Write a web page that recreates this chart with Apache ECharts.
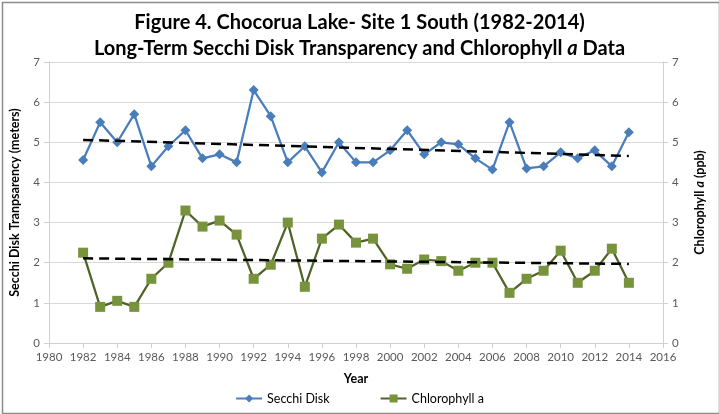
<!DOCTYPE html>
<html><head><meta charset="utf-8">
<script src="https://cdn.jsdelivr.net/npm/echarts@6/dist/echarts.min.js"></script>
<style>html,body{margin:0;padding:0;background:#fff}#c{width:719px;height:414px}</style>
</head><body><div id="c"></div>
<script>
var years = [1982,1983,1984,1985,1986,1987,1988,1989,1990,1991,1992,1993,1994,1995,1996,1997,1998,1999,2000,2001,2002,2003,2004,2005,2006,2007,2008,2009,2010,2011,2012,2013,2014];
var secchi = [4.56,5.5,5.0,5.7,4.4,4.9,5.3,4.6,4.7,4.5,6.3,5.65,4.5,4.9,4.25,5.0,4.5,4.5,4.8,5.3,4.7,5.0,4.95,4.6,4.32,5.5,4.35,4.4,4.75,4.6,4.8,4.4,5.25];
var chlorophyll = [2.25,0.9,1.05,0.9,1.6,2.0,3.3,2.9,3.05,2.7,1.6,1.95,3.0,1.4,2.6,2.95,2.5,2.6,1.96,1.85,2.08,2.04,1.8,2.0,2.0,1.25,1.6,1.8,2.3,1.5,1.8,2.35,1.5];
var trendYears = [1982, 2014];
var secchiTrend = [5.06, 4.66];
var chlTrend = [2.11, 1.97];
var yTicks = [0,1,2,3,4,5,6,7];

function pairs(xs, ys){ return xs.map(function(x,i){ return [x, ys[i]]; }); }

var chart = echarts.init(document.getElementById('c'), null, {renderer:'canvas'});
var FONT = 'Lato, "Open Sans", sans-serif';
var tickLabel = {color:'#595959', fontSize:11.5, fontFamily:FONT};
chart.setOption({
  animation:false,
  textStyle:{fontFamily:FONT},
  title:{
    text:'Figure 4. Chocorua Lake- Site 1 South (1982-2014)\n{b|Long-Term Secchi Disk Transparency and Chlorophyll }{i|a}{b| Data}',
    left:'center', top:5,
    textStyle:{fontSize:20, fontWeight:'bold', color:'#000', fontFamily:FONT, lineHeight:26,
      rich:{b:{fontSize:20,fontWeight:'bold',color:'#000',fontFamily:FONT,lineHeight:26},
            i:{fontSize:20,fontWeight:'bold',fontStyle:'italic',color:'#000',fontFamily:FONT,lineHeight:26}}}
  },
  grid:{left:48, right:56, top:62, bottom:71},
  legend:{
    bottom:4, left:'center', itemWidth:26, itemHeight:10, itemGap:50,
    textStyle:{color:'#000', fontSize:12.5, fontFamily:FONT},
    data:['Secchi Disk','Chlorophyll a']
  },
  xAxis:{
    type:'value', min:1980, max:2016, interval:2,
    name:'Year', nameLocation:'middle', nameGap:29,
    nameTextStyle:{fontWeight:'bold', fontSize:12.5, color:'#000', fontFamily:FONT},
    axisLine:{show:true, lineStyle:{color:'#d0d0d0'}},
    axisTick:{show:true, length:5, lineStyle:{color:'#d0d0d0'}},
    axisLabel:Object.assign({margin:8, formatter:function(v){return String(v);}}, tickLabel),
    splitLine:{show:false}
  },
  yAxis:[{
    type:'value', min:0, max:7, interval:1, position:'left',
    name:'Secchi Disk Tranpsarency (meters)', nameLocation:'middle', nameGap:28, nameRotate:90,
    nameTextStyle:{fontWeight:'bold', fontSize:12.5, color:'#000', fontFamily:FONT},
    axisLine:{show:true, lineStyle:{color:'#d0d0d0'}},
    axisTick:{show:true, length:5, lineStyle:{color:'#d0d0d0'}},
    axisLabel:Object.assign({margin:9}, tickLabel),
    splitLine:{show:true, lineStyle:{color:'#d9d9d9'}}
  },{
    type:'value', min:0, max:7, interval:1, position:'right',
    name:'{n|Chlorophyll }{i|a}{n| (ppb)}', nameLocation:'middle', nameGap:30, nameRotate:90,
    nameTextStyle:{fontWeight:'bold', fontSize:12.5, color:'#000', fontFamily:FONT,
      rich:{n:{fontWeight:'bold',fontSize:12.5,color:'#000',fontFamily:FONT},
            i:{fontWeight:'bold',fontStyle:'italic',fontSize:12.5,color:'#000',fontFamily:FONT}}},
    axisLine:{show:true, lineStyle:{color:'#d0d0d0'}},
    axisTick:{show:true, length:5, lineStyle:{color:'#d0d0d0'}},
    axisLabel:Object.assign({margin:9}, tickLabel),
    splitLine:{show:false}
  }],
  series:[{
    name:'Secchi Disk', type:'line', yAxisIndex:0, data:pairs(years, secchi),
    symbol:'diamond', symbolSize:10,
    lineStyle:{color:'#4a7ebb', width:2.25},
    itemStyle:{color:'#4a7ebb'}, z:3
  },{
    name:'Chlorophyll a', type:'line', yAxisIndex:1, data:pairs(years, chlorophyll),
    symbol:'rect', symbolSize:10,
    lineStyle:{color:'#4f6228', width:2.25},
    itemStyle:{color:'#77933c'}, z:3
  },{
    name:'Secchi trend', type:'line', yAxisIndex:0, data:pairs(trendYears, secchiTrend),
    symbol:'none', lineStyle:{color:'#000', width:2.5, type:[10,6]}, z:4, silent:true
  },{
    name:'Chl trend', type:'line', yAxisIndex:1, data:pairs(trendYears, chlTrend),
    symbol:'none', lineStyle:{color:'#000', width:2.5, type:[10,6]}, z:4, silent:true
  }],
  graphic:[{
    type:'rect', left:0, top:0, z:-1,
    shape:{x:0.5, y:0.5, width:717, height:411},
    style:{fill:'none', stroke:'#8c8c8c', lineWidth:1.5}
  }]
});
</script></body></html>
